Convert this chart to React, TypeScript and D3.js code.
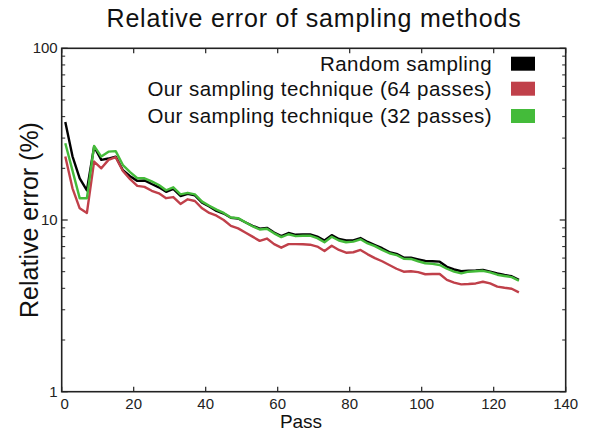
import React from "react";
import * as d3 from "d3";

const passes = [1,3,5,7,9,11,13,15,17,19,21,23,25,27,29,31,33,35,37,39,41,43,45,47,49,51,53,55,57,59,61,63,65,67,69,71,73,75,77,79,81,83,85,87,89,91,93,95,97,99,101,103,105,107,109,111,113,115,117,119,121,123,125,127];

const randomSampling = [37.2,23.5,17.5,14.9,26.7,22.4,22.8,23.4,19.5,18.0,16.9,17.0,16.2,15.5,14.6,15.2,13.8,14.2,13.9,12.6,12.0,11.3,10.9,10.3,10.2,9.7,9.25,8.9,9.0,8.45,8.05,8.4,8.2,8.25,8.25,8.0,7.6,8.16,7.75,7.6,7.6,7.85,7.45,7.15,6.85,6.5,6.35,6.05,6.03,5.9,5.77,5.75,5.72,5.34,5.15,5.03,5.07,5.08,5.12,5.0,4.88,4.78,4.7,4.48];

const ours64 = [23.4,15.3,11.7,11.0,21.9,20.0,22.4,23.2,19.3,17.3,15.8,15.6,14.8,14.3,13.4,13.6,12.4,13.2,12.9,11.7,11.0,10.6,10.0,9.25,8.94,8.45,8.0,7.56,7.8,7.24,6.9,7.24,7.24,7.22,7.18,7.0,6.6,7.08,6.69,6.45,6.49,6.69,6.31,6.0,5.75,5.47,5.2,5.0,5.03,4.97,4.83,4.85,4.85,4.48,4.32,4.22,4.24,4.27,4.37,4.27,4.09,4.03,3.98,3.79];

const ours32 = [28.0,19.4,13.4,13.4,27.0,23.4,25.0,25.2,20.9,19.0,17.5,17.5,16.8,16.0,14.9,15.5,14.1,14.4,14.1,12.8,12.1,11.5,11.0,10.35,10.25,9.7,9.2,8.8,8.9,8.36,7.95,8.26,8.05,8.1,8.1,7.84,7.42,7.99,7.6,7.42,7.48,7.72,7.3,7.05,6.7,6.4,6.25,5.95,5.93,5.75,5.6,5.55,5.47,5.2,5.0,4.89,5.0,5.03,5.06,4.95,4.8,4.72,4.65,4.43];

const seriesNames = ["Random sampling", "Our sampling technique (64 passes)", "Our sampling technique (32 passes)"];
const seriesColors = ["#000000", "#c0404a", "#44bb3a"];
const seriesData = [randomSampling, ours64, ours32];

const xTicks = [0, 20, 40, 60, 80, 100, 120, 140];
const yMajor = [1, 10, 100];

const W = 589, H = 432;
const left = 61.7, right = 565.7, top = 48.3, bottom = 391.7;
const FONT = "'Liberation Sans', Arial, sans-serif";

export default function App() {
  const x = d3.scaleLinear().domain([0, 140]).range([left, right]);
  const y = d3.scaleLog().domain([1, 100]).range([bottom, top]);
  const minor: number[] = [];
  [1, 10].forEach((d) => { for (let k = 2; k <= 9; k++) minor.push(d * k); });

  const line = (vals: number[]) =>
    d3.line<number>().x((_, i) => x(passes[i])).y((v) => y(v))(vals) || "";

  const legendRight = 492;
  const legendY = [63.7, 88.7, 116];

  return (
    <svg width={W} height={H} style={{ position: "absolute", left: 0, top: 0, background: "#fff" }}>
      <rect x={0} y={0} width={W} height={H} fill="#fff" />
      <text x={314} y={27} textAnchor="middle" fontFamily={FONT} fontSize={25} letterSpacing={0.8} fill="#111">
        Relative error of sampling methods
      </text>
      {seriesData.map((vals, i) => (
        <path key={i} d={line(vals)} fill="none" stroke={seriesColors[i]} strokeWidth={2.4} strokeLinejoin="round" />
      ))}
      <rect x={left} y={top} width={right - left} height={bottom - top} fill="none" stroke="#222" strokeWidth={1.6} />
      {xTicks.map((t) => (
        <g key={t}>
          <line x1={x(t)} x2={x(t)} y1={bottom} y2={bottom - 5} stroke="#222" strokeWidth={1.2} />
          <line x1={x(t)} x2={x(t)} y1={top} y2={top + 5} stroke="#222" strokeWidth={1.2} />
          <text x={x(t) + (t === 0 ? 3 : 0)} y={bottom + 17} textAnchor="middle" fontFamily={FONT} fontSize={15} fill="#222">{t}</text>
        </g>
      ))}
      {yMajor.map((t) => (
        <g key={t}>
          <line x1={left} x2={left + 6} y1={y(t)} y2={y(t)} stroke="#222" strokeWidth={1.2} />
          <line x1={right} x2={right - 6} y1={y(t)} y2={y(t)} stroke="#222" strokeWidth={1.2} />
          <text x={left - 4} y={y(t) + 5} textAnchor="end" fontFamily={FONT} fontSize={15} fill="#222">{t}</text>
        </g>
      ))}
      {minor.map((t) => (
        <g key={"m" + t}>
          <line x1={left} x2={left + 3.5} y1={y(t)} y2={y(t)} stroke="#222" strokeWidth={1} />
          <line x1={right} x2={right - 3.5} y1={y(t)} y2={y(t)} stroke="#222" strokeWidth={1} />
        </g>
      ))}
      <text x={301} y={428} textAnchor="middle" fontFamily={FONT} fontSize={19} fill="#111">Pass</text>
      <text transform={`translate(38, ${(top + bottom) / 2}) rotate(-90)`} textAnchor="middle" fontFamily={FONT} fontSize={25} fill="#111">
        Relative error (%)
      </text>
      {seriesNames.map((n, i) => (
        <g key={n}>
          <text x={legendRight} y={legendY[i] + 7} textAnchor="end" fontFamily={FONT} fontSize={20.5} letterSpacing={0.45} fill="#111">{n}</text>
          <rect x={511} y={legendY[i] - 7} width={24} height={14} fill={seriesColors[i]} />
        </g>
      ))}
    </svg>
  );
}
